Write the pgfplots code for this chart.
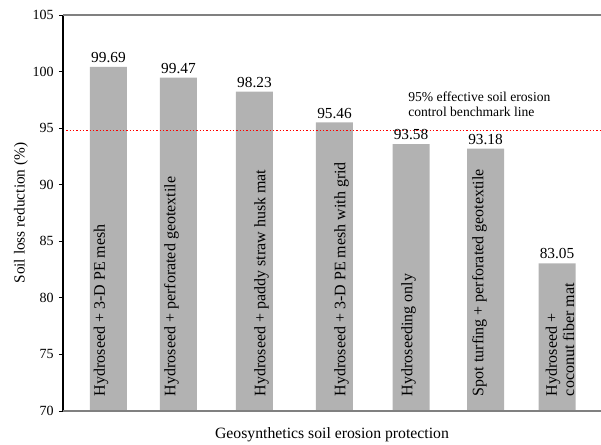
\documentclass[border=0pt]{standalone}
\usepackage{pgfplots}
\pgfplotsset{compat=1.18}
\usepackage{fontspec}
\setmainfont{Liberation Serif}
\definecolor{bargray}{RGB}{178,178,178}
\begin{document}
\begin{tikzpicture}
\path[use as bounding box] (-47.25pt,-24.75pt) rectangle (403.5pt,308.25pt);
\begin{axis}[
  at={(0,0)}, anchor=origin,
  scale only axis,
  width=403.5pt, height=297pt,
  xmin=63, xmax=601,
  ymin=70, ymax=105,
  ytick={70,75,...,105},
  xtick=\empty,
  axis line style={draw=none},
  y tick style={black, line width=0.6pt},
  ytick pos=left,
  tick align=outside,
  major tick length=3pt,
  /pgf/number format/assume math mode=true,
  yticklabel style={font=\fontsize{10.5}{12}\selectfont, xshift=-0.5pt},
  ylabel={Soil loss reduction (\%)},
  ylabel style={at={(axis description cs:-0.078,0.5)}, anchor=center, font=\fontsize{11.5}{13}\selectfont},
  xlabel={Geosynthetics soil erosion protection},
  xlabel style={at={(axis description cs:0.5,0)}, anchor=center, yshift=-18pt, font=\fontsize{11.8}{13}\selectfont},
  clip=false,
]
\addplot[ybar, bar width=27.75pt, fill=bargray, draw=none,
  point meta=explicit symbolic,
  nodes near coords,
  nodes near coords style={font=\fontsize{11.5}{13}\selectfont, inner sep=0pt, anchor=south, yshift=3pt}]
  coordinates {
  (108.5,100.42) [99.69]
  (178.5,99.47) [99.47]
  (254.5,98.23) [98.23]
  (334.5,95.50) [95.46]
  (411,93.58) [93.58]
  (485.5,93.18) [93.18]
  (557,83.05) [83.05]
  };
\addplot[red, line width=1.1pt, dash pattern=on 1.1pt off 1.4pt] coordinates {(63,94.8) (601,94.8)};
\draw[black, line width=0.8pt] (rel axis cs:0,0) -- (rel axis cs:0,1);
\draw[gray, line width=0.8pt] (rel axis cs:0,0) -- (rel axis cs:1,0);
\draw[gray, line width=0.8pt] (rel axis cs:0,1) -- (rel axis cs:1,1);
\begin{scope}[every node/.style={rotate=90, anchor=west, inner sep=0pt, font=\fontsize{12}{13}\selectfont, align=left}]
\node at (axis cs:101,71.3) {Hydroseed + 3-D PE mesh};
\node at (axis cs:171.5,71.3) {Hydroseed + perforated geotextile};
\node at (axis cs:261.5,71.3) {Hydroseed + paddy straw husk mat};
\node at (axis cs:341.5,71.3) {Hydroseed + 3-D PE mesh with grid};
\node at (axis cs:408.5,71.3) {Hydroseeding only};
\node at (axis cs:479.5,71.3) {Spot turfing + perforated geotextile};
\node at (axis cs:560,71.3) {Hydroseed +\\coconut fiber mat};
\end{scope}
\node[anchor=north west, inner sep=0pt, align=left, font=\fontsize{10.2}{11.3}\selectfont] at (axis cs:408,98.25) {95\% effective soil erosion\\control benchmark line};
\end{axis}
\end{tikzpicture}
\end{document}
